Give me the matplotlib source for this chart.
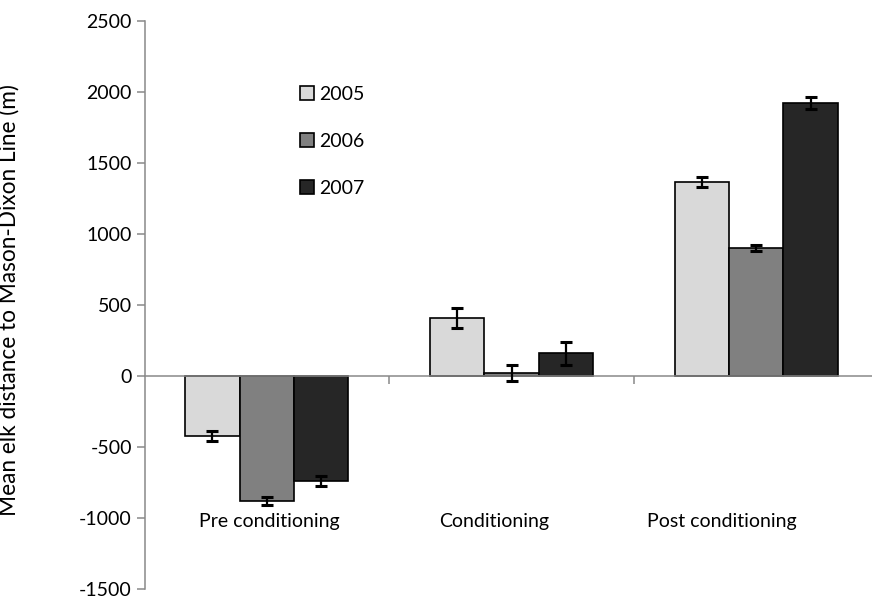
import matplotlib
matplotlib.use("Agg")
import matplotlib.pyplot as plt
import numpy as np

categories = ["Pre conditioning", "Conditioning", "Post conditioning"]
years = ["2005", "2006", "2007"]
values = {
    "2005": [-422, 408, 1364],
    "2006": [-881, 20, 898],
    "2007": [-738, 160, 1924],
}
errors = {
    "2005": [38, 70, 34],
    "2006": [27, 56, 21],
    "2007": [37, 81, 42],
}
colors = {"2005": "#D9D9D9", "2006": "#808080", "2007": "#262626"}
yticks = [-1500, -1000, -500, 0, 500, 1000, 1500, 2000, 2500]
# horizontal offsets (category units) of the hand-placed category labels
label_offsets = [0.01, -0.07, -0.14]

plt.rcParams['font.family'] = ['Lato', 'DejaVu Sans']
FS = 14

fig = plt.figure(figsize=(8.72, 6.02), dpi=100)
ax = fig.add_axes([144.5 / 872, 12.7 / 602, 734.1 / 872, 568.6 / 602])

x = np.arange(len(categories))
w = 1.0 / 4.5
for k, yr in enumerate(years):
    ax.bar(x + (k - 1) * w, values[yr], width=w, color=colors[yr],
           edgecolor="black", linewidth=1.2, label=yr, zorder=2)
    ax.errorbar(x + (k - 1) * w, values[yr], yerr=errors[yr], fmt="none",
                ecolor="black", elinewidth=1.6, capsize=4.5, capthick=2.2,
                zorder=3)

ax.set_xlim(-0.5, 2.5)
ax.set_ylim(-1500, 2500)
ax.set_yticks(yticks)
ax.set_yticklabels([str(v) for v in yticks], fontsize=FS)
ax.set_xticks([0.5, 1.5])
ax.set_xticklabels([])

for s in ["top", "right"]:
    ax.spines[s].set_visible(False)
ax.spines["bottom"].set_position(("data", 0))
for s in ["left", "bottom"]:
    ax.spines[s].set_color("#898989")
    ax.spines[s].set_linewidth(1.1)
ax.tick_params(axis="both", direction="out", length=6, width=1.1,
               color="#898989", labelcolor="black")
ax.tick_params(axis="y", pad=3)

for i, cat in enumerate(categories):
    ax.text(i + label_offsets[i], -1021, cat, ha="center", va="center",
            fontsize=FS, color="black")

ax.set_ylabel("Mean elk distance to Mason-Dixon Line (m)", fontsize=16.3)
ax.yaxis.set_label_coords(-0.1696, 0.509)

leg = ax.legend(loc="upper left", bbox_to_anchor=(290 / 872, 1 - 76 / 602),
                bbox_transform=fig.transFigure, frameon=False, fontsize=FS,
                handlelength=0.75, handleheight=0.75, handletextpad=0.25,
                labelspacing=1.55, borderpad=0)

fig.savefig("out.png", dpi=100)
